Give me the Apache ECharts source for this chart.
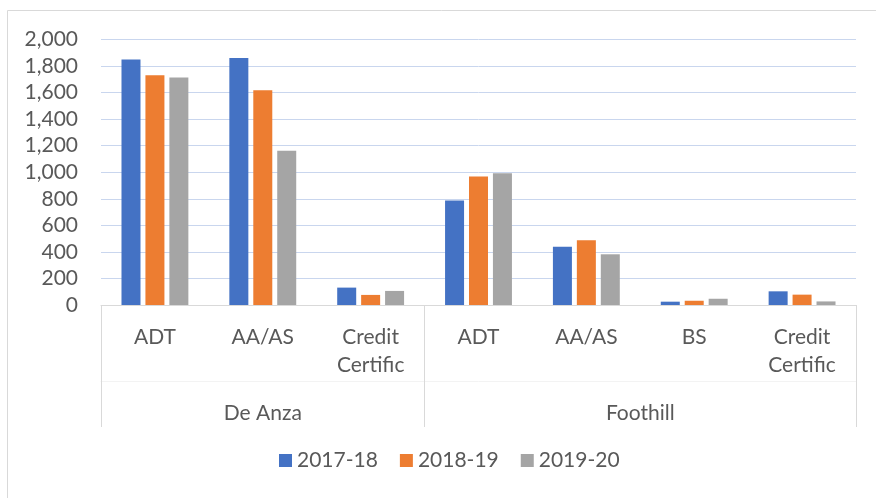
<!DOCTYPE html>
<html>
<head>
<meta charset="utf-8">
<script src="https://cdn.jsdelivr.net/npm/echarts@6/dist/echarts.min.js"></script>
<style>
  html, body { margin: 0; padding: 0; background: #fff; }
  #chart { width: 876px; height: 498px; }
</style>
</head>
<body>
<div id="chart"></div>
<script>
// ---- data ----
const categories = ['ADT', 'AA/AS', 'Credit\nCertific', 'ADT', 'AA/AS', 'BS', 'Credit\nCertific'];
const groups = ['De Anza', 'Foothill'];
const groupSizes = [3, 4];
const seriesNames = ['2017-18', '2018-19', '2019-20'];
const values2017 = [1850, 1860, 131, 787, 438, 25, 103];
const values2018 = [1731, 1617, 76, 968, 488, 32, 78];
const values2019 = [1713, 1162, 106, 993, 382, 47, 27];
const yTicks = [0, 200, 400, 600, 800, 1000, 1200, 1400, 1600, 1800, 2000];

// ---- derived group boundaries / centers ----
const boundaries = [0];
const centers = [];
groupSizes.forEach((n, i) => {
  const start = boundaries[boundaries.length - 1];
  centers.push(start + n / 2);
  boundaries.push(start + n);
});
const total = boundaries[boundaries.length - 1];

const FONT = 'Lato';
const FS = 21;
const TXT = '#595959';
const LINE = '#d9d9d9';

const chart = echarts.init(document.getElementById('chart'), null, { renderer: 'canvas' });
chart.setOption({
  animation: false,
  textStyle: { fontFamily: FONT },
  color: ['#4472C4', '#ED7D31', '#A5A5A5'],
  graphic: [
    { type: 'line', shape: { x1: 7.5, y1: 10.5, x2: 876, y2: 10.5 }, style: { stroke: LINE, lineWidth: 1 } },
    { type: 'line', shape: { x1: 7.5, y1: 10.5, x2: 7.5, y2: 498 }, style: { stroke: LINE, lineWidth: 1 } }
  ],
  grid: { left: 101, right: 20, top: 39.5, bottom: 193, containLabel: false },
  legend: {
    data: seriesNames,
    top: 450,
    left: 279,
    padding: 0,
    itemWidth: 13,
    itemHeight: 13,
    itemGap: 22,
    icon: 'rect',
    textStyle: { color: TXT, fontSize: FS, fontFamily: FONT }
  },
  xAxis: [
    {
      type: 'category',
      data: categories,
      axisLine: { show: true, lineStyle: { color: LINE, width: 1 } },
      axisTick: { show: false },
      axisLabel: {
        color: TXT, fontSize: FS, fontFamily: FONT, lineHeight: 28,
        margin: 18, interval: 0, verticalAlign: 'top'
      },
      splitLine: { show: false }
    },
    {
      type: 'value',
      min: 0, max: total,
      position: 'bottom',
      axisLine: { show: false },
      axisTick: {
        show: true, customValues: boundaries, length: 122,
        lineStyle: { color: LINE, width: 1 }
      },
      axisLabel: {
        show: true, customValues: centers,
        formatter: (v) => { const i = centers.indexOf(v); return i >= 0 ? groups[i] : ''; },
        color: TXT, fontSize: FS, fontFamily: FONT, lineHeight: 28,
        margin: 94, verticalAlign: 'top'
      },
      splitLine: { show: false }
    },
    {
      type: 'value',
      min: 0, max: total,
      position: 'bottom',
      offset: 76,
      axisLine: { show: true, lineStyle: { color: '#f3f3f3', width: 1 } },
      axisTick: { show: false },
      axisLabel: { show: false },
      splitLine: { show: false }
    }
  ],
  yAxis: {
    type: 'value',
    min: yTicks[0], max: yTicks[yTicks.length - 1], interval: yTicks[1] - yTicks[0],
    axisLine: { show: false },
    axisTick: { show: false },
    axisLabel: {
      color: TXT, fontSize: FS, fontFamily: FONT, margin: 23,
      formatter: (v) => v.toLocaleString('en-US')
    },
    splitLine: { lineStyle: { color: '#c9d6ee', width: 1 } }
  },
  series: [
    { name: seriesNames[0], type: 'bar', data: values2017, barWidth: 19, barGap: '26%', xAxisIndex: 0 },
    { name: seriesNames[1], type: 'bar', data: values2018, barWidth: 19, barGap: '26%', xAxisIndex: 0 },
    { name: seriesNames[2], type: 'bar', data: values2019, barWidth: 19, barGap: '26%', xAxisIndex: 0 }
  ]
});
</script>
</body>
</html>
